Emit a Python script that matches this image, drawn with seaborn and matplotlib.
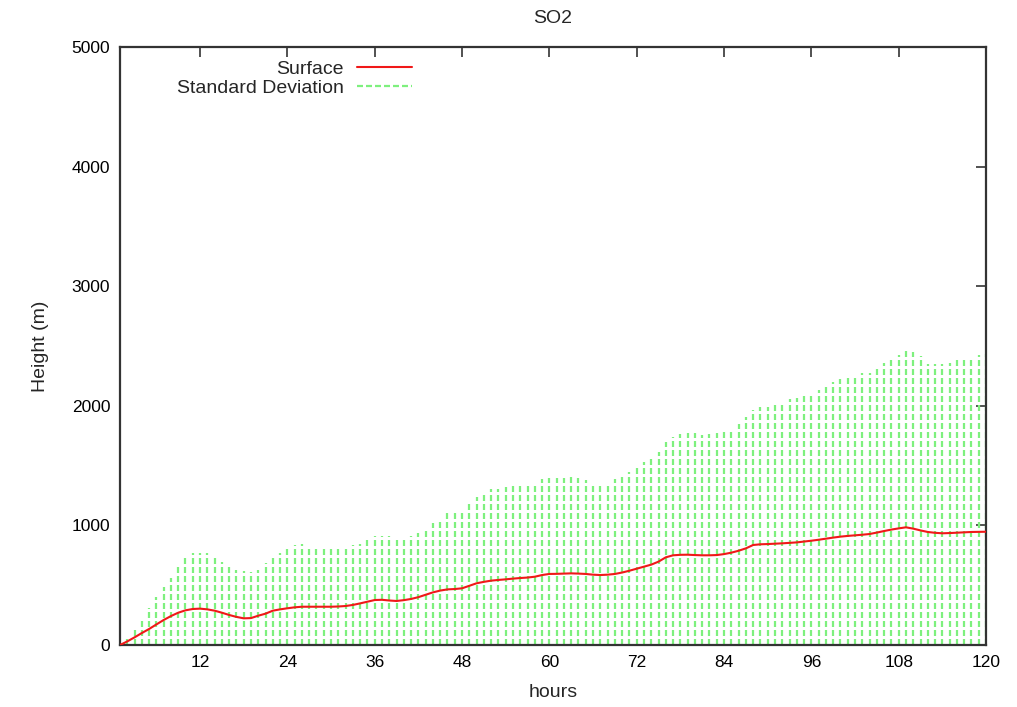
import numpy as np
import pandas as pd
import matplotlib
matplotlib.use("Agg")
import matplotlib.pyplot as plt
import seaborn as sns

# data (hours 1..120)
hours = list(range(1, 121))

surface = [0, 30, 64, 100, 134, 172, 209, 242, 270, 290,
           301, 304, 298, 287, 270, 251, 235, 223, 225, 245,
           262, 287, 298, 307, 315, 320, 320, 320, 320, 320,
           322, 326, 335, 348, 362, 376, 378, 372, 368, 375,
           385, 400, 420, 440, 455, 465, 468, 474, 495, 516,
           528, 538, 544, 549, 555, 560, 564, 571, 585, 594,
           595, 597, 599, 597, 594, 588, 585, 588, 594, 606,
           621, 638, 655, 672, 697, 733, 750, 754, 755, 752,
           750, 750, 752, 760, 772, 788, 808, 836, 842, 844,
           847, 850, 854, 858, 865, 872, 880, 889, 898, 906,
           912, 917, 922, 928, 940, 953, 965, 975, 984, 973,
           958, 945, 938, 934, 936, 939, 942, 945, 946, 947]

std_dev = [0, 47, 125, 203, 307, 404, 488, 557, 660, 738,
           767, 767, 767, 738, 691, 675, 627, 619, 613, 627,
           685, 747, 772, 817, 834, 842, 830, 817, 808, 808,
           817, 817, 834, 845, 906, 914, 914, 911, 900, 906,
           911, 934, 967, 1017, 1056, 1115, 1101, 1120, 1176, 1235,
           1274, 1302, 1307, 1324, 1346, 1346, 1346, 1346, 1388, 1394,
           1394, 1394, 1402, 1394, 1380, 1346, 1346, 1357, 1391, 1413,
           1449, 1483, 1533, 1553, 1616, 1700, 1742, 1764, 1775, 1770,
           1758, 1764, 1770, 1778, 1803, 1845, 1904, 1965, 1987, 1993,
           2021, 2034, 2054, 2062, 2090, 2110, 2132, 2160, 2200, 2225,
           2240, 2258, 2272, 2277, 2313, 2355, 2405, 2425, 2472, 2452,
           2416, 2349, 2349, 2349, 2355, 2383, 2397, 2410, 2422, 2430]

x_ticks = [12, 24, 36, 48, 60, 72, 84, 96, 108, 120]
y_ticks = [0, 1000, 2000, 3000, 4000, 5000]

df = pd.DataFrame({"hours": hours, "surface": surface, "std": std_dev})

sns.set_style("white")
plt.rcParams["font.family"] = ["Liberation Sans", "DejaVu Sans"]

fig = plt.figure(figsize=(10.17, 7.07), dpi=100)
ax = fig.add_axes([120 / 1017, 62 / 707, 866 / 1017, 598 / 707])

# std deviation drawn as dashed impulses
ax.vlines(df["hours"], 0, df["std"], colors="#7ef07e", linewidth=1.6,
          linestyles=(0, (2.7, 1.35)), label="Standard Deviation", zorder=1)
sns.lineplot(data=df, x="hours", y="surface", color="#f01818", linewidth=1.5,
             ax=ax, label="Surface", zorder=3)

ax.set_xlim(1, 120)
ax.set_ylim(0, 5000)
ax.set_xticks(x_ticks)
ax.set_yticks(y_ticks)
ax.tick_params(direction="in", length=7, width=1.2, top=True, right=True,
               labelsize=12.5, colors="#333333", labelcolor="black", pad=7)
for s in ax.spines.values():
    s.set_color("#333333")
    s.set_linewidth(1.6)

ax.set_xlabel("hours", fontsize=14, labelpad=10)
ax.set_ylabel("Height (m)", fontsize=14, labelpad=16)
ax.set_title("SO2", fontsize=14, pad=17)

h, l = ax.get_legend_handles_labels()
order = [l.index("Surface"), l.index("Standard Deviation")]
leg = ax.legend([h[i] for i in order], [l[i] for i in order], loc="upper left",
                bbox_to_anchor=(57 / 866, 1 - 13 / 598), frameon=False,
                markerfirst=False, handlelength=2.85, labelspacing=0.1,
                borderpad=0, borderaxespad=0, fontsize=14, handletextpad=0.65)
for col in leg._legend_handle_box.get_children():
    col.align = "right"

fig.savefig("out.png", dpi=100)
